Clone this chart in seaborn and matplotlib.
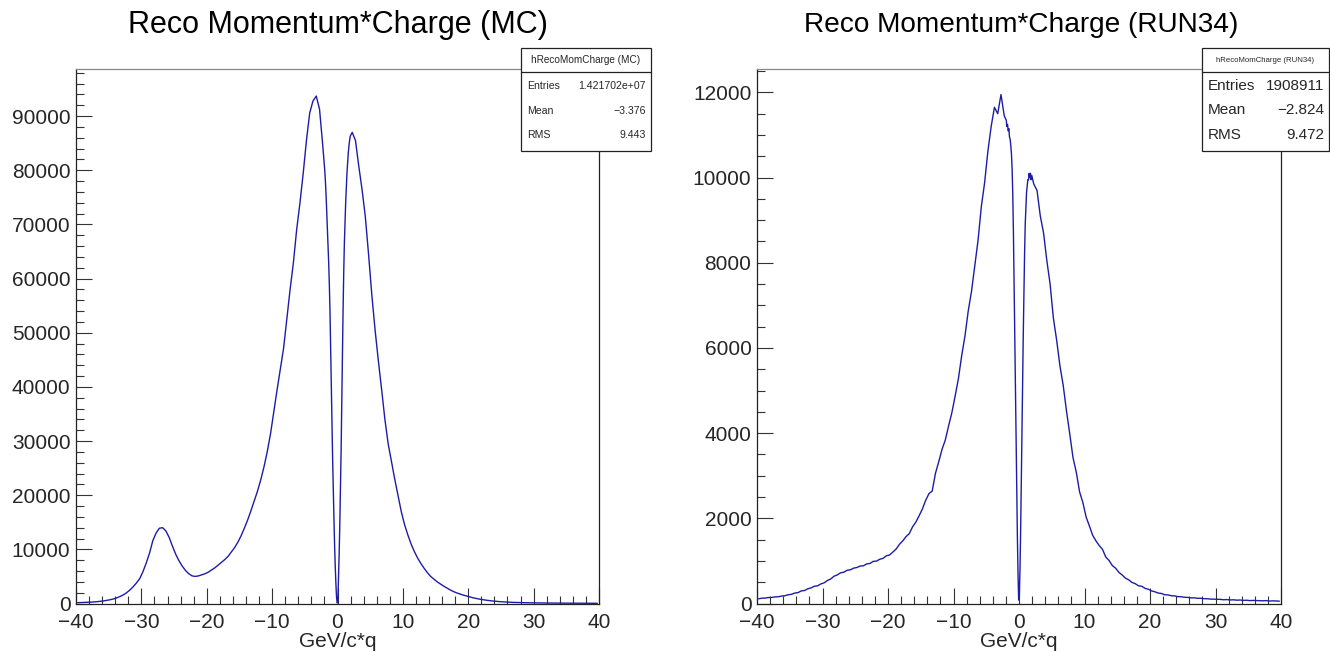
import numpy as np
import pandas as pd
import matplotlib
matplotlib.use("Agg")
import matplotlib.pyplot as plt
import seaborn as sns
from matplotlib.patches import Rectangle
from matplotlib.lines import Line2D
from matplotlib.ticker import MultipleLocator

# ---------------- data ----------------
# bin edges: 0.5 GeV bins outside [-2, 2], 0.1 GeV bins inside
bin_edges = np.concatenate([np.linspace(-40, -2, 77)[:-1],
                            np.linspace(-2, 2, 41)[:-1],
                            np.linspace(2, 40, 77)])

mc_low = [150, 170, 190, 220, 250, 290, 340, 400, 480, 580,
          700, 850, 1050, 1300, 1600, 2000, 2500, 3100, 3800, 4600,
          5900, 7500, 9300, 11600, 13000, 13900, 14000, 13400, 12200, 10600,
          9100, 7900, 6900, 6100, 5500, 5100, 5000, 5100, 5300, 5500,
          5800, 6200, 6600, 7100, 7600, 8100, 8700, 9500, 10300, 11300,
          12500, 13900, 15400, 17100, 18900, 20700, 22800, 25200, 28000, 31300,
          35400, 39400, 43300, 47100, 52600, 58000, 62900, 69000, 73900, 79400,
          85500, 90600, 92800, 93700, 91300, 84500]
mc_mid = [80000, 78000, 75500, 72500, 69500, 66500, 63000, 59000, 54000, 47000,
          40000, 33000, 27000, 21000, 16000, 11000, 7000, 3800, 1200, 100,
          300, 4500, 9000, 14500, 21000, 28000, 37000, 46000, 54000, 61000,
          66500, 70500, 74000, 77000, 79500, 81500, 83200, 84500, 85500, 86300]
mc_high = [87000, 85500, 80800, 76500, 71500, 64500, 57000, 50500, 44800, 39500,
           34000, 29500, 26200, 23000, 20000, 17000, 14600, 12700, 11000, 9600,
           8400, 7400, 6500, 5700, 5000, 4500, 4000, 3600, 3200, 2850,
           2500, 2200, 1950, 1750, 1550, 1380, 1200, 1050, 920, 800,
           700, 610, 530, 460, 400, 350, 310, 270, 240, 210,
           190, 170, 150, 140, 130, 120, 110, 100, 95, 90,
           85, 80, 75, 70, 65, 62, 58, 55, 52, 50,
           48, 46, 44, 42, 40, 38]

run_low = [110, 125, 128, 140, 142, 155, 158, 175, 182, 205,
           215, 245, 255, 295, 305, 345, 365, 405, 415, 460,
           485, 540, 575, 640, 670, 720, 735, 780, 790, 830,
           845, 880, 885, 930, 940, 990, 995, 1040, 1060, 1120,
           1140, 1210, 1280, 1390, 1470, 1570, 1640, 1800, 1910, 2060,
           2220, 2420, 2580, 2640, 3060, 3330, 3620, 3840, 4170, 4480,
           4870, 5280, 5820, 6280, 6870, 7330, 7920, 8530, 9320, 9880,
           10620, 11200, 11650, 11500, 11950, 11450]
run_mid = [11350, 11200, 11250, 11100, 11150, 10950, 10900, 10750, 10550, 10200,
           9600, 8700, 7500, 6200, 4900, 3700, 2600, 1600, 700, 80,
           150, 800, 1700, 2800, 4000, 5200, 6300, 7300, 8200, 8900,
           9300, 9650, 9800, 9950, 9950, 10100, 10000, 10100, 9950, 10050]
run_high = [9850, 9700, 9100, 8700, 8050, 7500, 6700, 6180, 5580, 5120,
            4520, 3980, 3420, 3080, 2620, 2370, 2030, 1820, 1600, 1470,
            1360, 1270, 1090, 1010, 890, 830, 730, 670, 595, 555,
            495, 465, 415, 405, 355, 335, 295, 275, 245, 235,
            205, 202, 182, 178, 162, 158, 147, 143, 132, 133,
            122, 123, 113, 112, 103, 102, 98, 97, 88, 92,
            83, 87, 78, 82, 73, 77, 68, 72, 69, 66,
            63, 67, 58, 62, 59, 55]

titles = ["Reco Momentum*Charge (MC)", "Reco Momentum*Charge (RUN34)"]
box_titles = ["hRecoMomCharge (MC)", "hRecoMomCharge (RUN34)"]
stat_labels = ["Entries", "Mean", "RMS"]
mc_stats = ["1.421702e+07", "\u22123.376", "9.443"]
run_stats = ["1908911", "\u22122.824", "9.472"]
x_label = "GeV/c*q"

# ---------------- style ----------------
sns.set_style("ticks")
plt.rcParams["font.family"] = ["Liberation Sans", "DejaVu Sans"]

W, H = 1330, 652
fig = plt.figure(figsize=(W / 100, H / 100), dpi=100)
line_color = "#1c1ca8"


def px_rect(x0, x1, ytop, ybot):
    return [x0 / W, 1 - ybot / H, (x1 - x0) / W, (ybot - ytop) / H]


centers = (bin_edges[:-1] + bin_edges[1:]) / 2
edges_list = [float(e) for e in bin_edges]
panels = [
    dict(counts=mc_low + mc_mid + mc_high, rect=px_rect(76, 599, 69, 603.5),
         ymax=98700, major=10000, minor=2000, tx=337.5, tfs=22,
         box=(521, 651), stats=mc_stats, bt_fs=7.2, st_fs=7.6),
    dict(counts=run_low + run_mid + run_high, rect=px_rect(757, 1281, 69, 603.5),
         ymax=12550, major=2000, minor=500, tx=1021, tfs=20.2,
         box=(1202, 1329), stats=run_stats, bt_fs=5.6, st_fs=11),
]

for i, p in enumerate(panels):
    ax = fig.add_axes(p["rect"])
    df = pd.DataFrame({"p": centers, "n": p["counts"]})
    sns.histplot(data=df, x="p", weights="n", bins=edges_list, element="poly",
                 fill=False, color=line_color, linewidth=1.0, ax=ax)
    ax.set_xlim(-40, 40)
    ax.set_ylim(0, p["ymax"])
    ax.xaxis.set_major_locator(MultipleLocator(10))
    ax.xaxis.set_minor_locator(MultipleLocator(2))
    ax.yaxis.set_major_locator(MultipleLocator(p["major"]))
    ax.yaxis.set_minor_locator(MultipleLocator(p["minor"]))
    ax.tick_params(which="major", direction="in", length=11.5, width=0.8,
                   labelsize=15, color="#333333")
    ax.tick_params(axis="x", which="major", pad=6.5)
    ax.tick_params(axis="y", which="major", pad=4)
    ax.tick_params(which="minor", direction="in", length=5.8, width=0.8,
                   color="#333333")
    ax.tick_params(top=False, right=False, which="both")
    ax.set_ylabel("")
    ax.set_xlabel(x_label, fontsize=15, labelpad=0.5)
    for s in ax.spines.values():
        s.set_linewidth(0.9)
        s.set_color("#222222")
    ax.spines["top"].set_color("#888888")

    fig.text(p["tx"] / W, 1 - 25 / H, titles[i], ha="center", va="center",
             fontsize=p["tfs"], color="black")

    # stats box
    bx0, bx1 = p["box"]
    fig.add_artist(Rectangle((bx0 / W, 1 - 151 / H), (bx1 - bx0) / W, (151 - 48) / H,
                             transform=fig.transFigure, facecolor="white",
                             edgecolor="#222222", linewidth=0.9, zorder=5))
    fig.add_artist(Line2D([bx0 / W, bx1 / W], [1 - 71.5 / H] * 2,
                          transform=fig.transFigure, color="#222222",
                          linewidth=0.9, zorder=6))
    fig.text((bx0 + bx1) / 2 / W, 1 - 60 / H, box_titles[i], ha="center",
             va="center", fontsize=p["bt_fs"], zorder=7)
    for lab, val, yy in zip(stat_labels, p["stats"], [86, 110.5, 135]):
        fig.text((bx0 + 6) / W, 1 - yy / H, lab, ha="left", va="center",
                 fontsize=p["st_fs"], zorder=7)
        fig.text((bx1 - 5) / W, 1 - yy / H, val, ha="right", va="center",
                 fontsize=p["st_fs"], zorder=7)

fig.savefig("out.png", dpi=100, facecolor="white")
